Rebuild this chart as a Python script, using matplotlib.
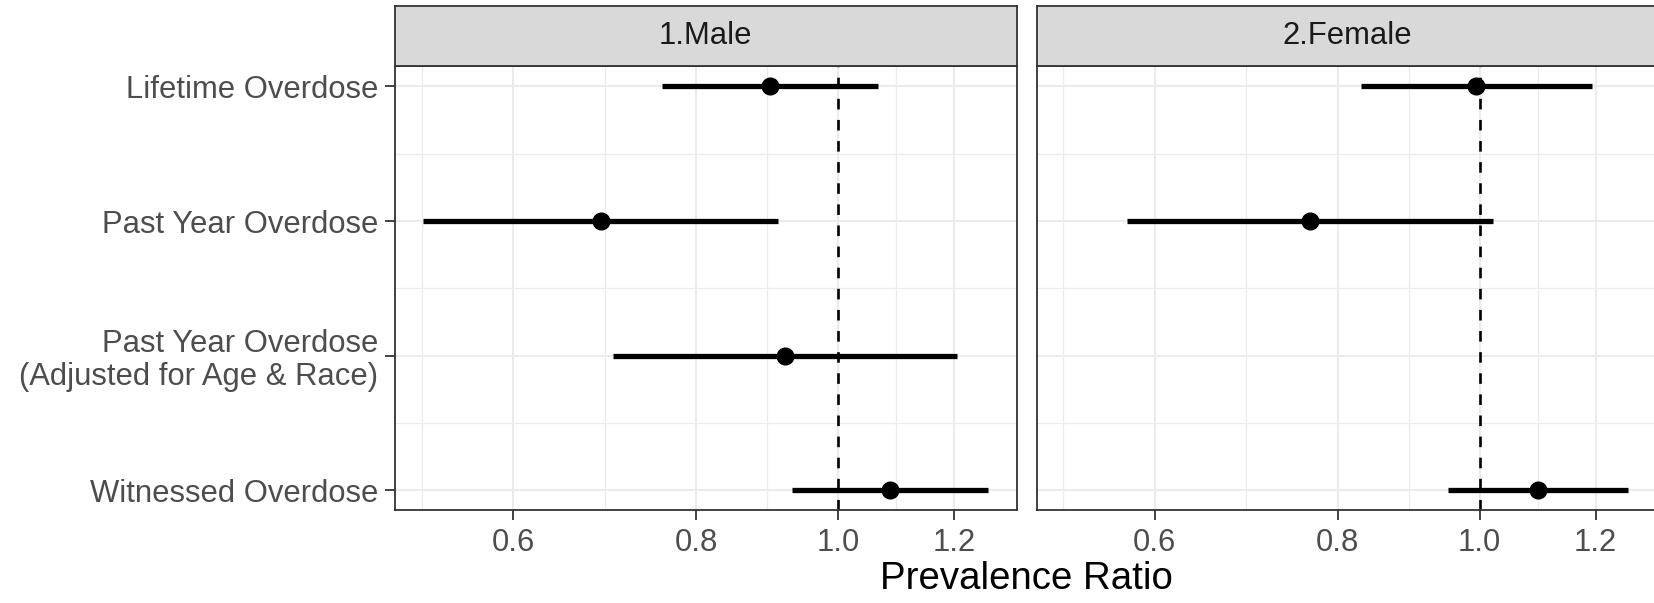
import numpy as np
import matplotlib
matplotlib.use('Agg')
import matplotlib.pyplot as plt
from matplotlib.ticker import FixedLocator, FixedFormatter, NullFormatter

plt.rcParams['font.family'] = ['Liberation Sans', 'DejaVu Sans']

# ------------------------------------------------------------
# Prevalence ratios with 95% CI, by sex
# ------------------------------------------------------------
outcomes = ['Lifetime Overdose',
            'Past Year Overdose',
            'Past Year Overdose\n(Adjusted for Age & Race)',
            'Witnessed Overdose']
panels = ['1.Male', '2.Female']

male_pr = [0.898, 0.689, 0.920, 1.085]
male_lo = [0.758, 0.521, 0.702, 0.931]
male_hi = [1.065, 0.910, 1.205, 1.267]

female_pr = [0.995, 0.766, np.nan, 1.096]
female_lo = [0.830, 0.574, np.nan, 0.951]
female_hi = [1.193, 1.022, np.nan, 1.263]

x_breaks = [0.6, 0.8, 1.0, 1.2]
x_labels = ['0.6', '0.8', '1.0', '1.2']

est = [male_pr, female_pr]
low = [male_lo, female_lo]
high = [male_hi, female_hi]

# shared log-scale limits, 5% expansion like ggplot
lo_all = np.nanmin(np.array(low, dtype=float))
hi_all = np.nanmax(np.array(high, dtype=float))
l0, l1 = np.log10(lo_all), np.log10(hi_all)
pad = 0.05 * (l1 - l0)
xlim = (10 ** (l0 - pad), 10 ** (l1 + pad))

# minor breaks halfway between majors in log space
lb = np.log10(x_breaks)
step = lb[1] - lb[0]
ext = np.concatenate([[lb[0] - step], lb, [lb[-1] + step]])
minor = 10 ** ((ext[:-1] + ext[1:]) / 2)
minor = [m for m in minor if xlim[0] <= m <= xlim[1]]

ypos = np.arange(1, len(outcomes) + 1)
ylim = (4 + 0.15, 1 - 0.15)

W, H = 1654, 603
fig = plt.figure(figsize=(W / 100, H / 100), dpi=100)

panel_w = 621.7 / W
lefts = [395 / W, 1036.7 / W]
bottom = (H - 510.3) / H
top = (H - 66.3) / H
strip_top = (H - 6) / H

grid_c = '#EBEBEB'
edge_c = '#333333'
text_c = '#4D4D4D'
fs = 22.3

for i, name in enumerate(panels):
    ax = fig.add_axes([lefts[i], bottom, panel_w, top - bottom])
    ax.set_xscale('log')
    ax.set_xlim(*xlim)
    ax.set_ylim(*ylim)

    ax.xaxis.set_major_locator(FixedLocator(x_breaks))
    ax.xaxis.set_major_formatter(FixedFormatter(x_labels))
    ax.xaxis.set_minor_locator(FixedLocator(minor))
    ax.xaxis.set_minor_formatter(NullFormatter())
    ax.yaxis.set_major_locator(FixedLocator(ypos))
    ax.yaxis.set_minor_locator(FixedLocator([1.5, 2.5, 3.5]))

    ax.grid(True, which='major', color=grid_c, lw=1.4, zorder=0)
    ax.grid(True, which='minor', color=grid_c, lw=0.9, zorder=0)
    ax.set_axisbelow(True)

    ax.axvline(1.0, color='black', lw=1.9, ls=(0, (4, 4)), zorder=2)

    ax.hlines(ypos, low[i], high[i], color='black', lw=3.8,
              capstyle='butt', zorder=3)
    ax.plot(est[i], ypos, 'o', color='black', markersize=12, zorder=4)

    for s in ax.spines.values():
        s.set_color(edge_c)
        s.set_linewidth(1.3)

    ax.tick_params(axis='both', which='major', length=7, width=1.3,
                   color=edge_c, labelsize=fs, labelcolor=text_c)
    ax.tick_params(axis='x', which='major', pad=6)
    ax.tick_params(axis='y', which='major', pad=5)
    ax.tick_params(which='minor', length=0)

    if i == 0:
        ax.set_yticklabels(outcomes, linespacing=1.12)
    else:
        ax.tick_params(axis='y', which='major', length=0, labelleft=False)

    # facet strip
    st = fig.add_axes([lefts[i], top, panel_w, strip_top - top])
    st.set_facecolor('#D9D9D9')
    st.set_xticks([])
    st.set_yticks([])
    for s in st.spines.values():
        s.set_color(edge_c)
        s.set_linewidth(1.3)
    st.text(0.5, 0.5, name, transform=st.transAxes, ha='center',
            va='center', fontsize=fs, color='#1A1A1A')

fig.text((395 + 1658.4) / 2 / W, (H - 589) / H, 'Prevalence Ratio',
         ha='center', va='baseline', fontsize=27.6, color='black')

fig.savefig('out.png', dpi=100, facecolor='white')
